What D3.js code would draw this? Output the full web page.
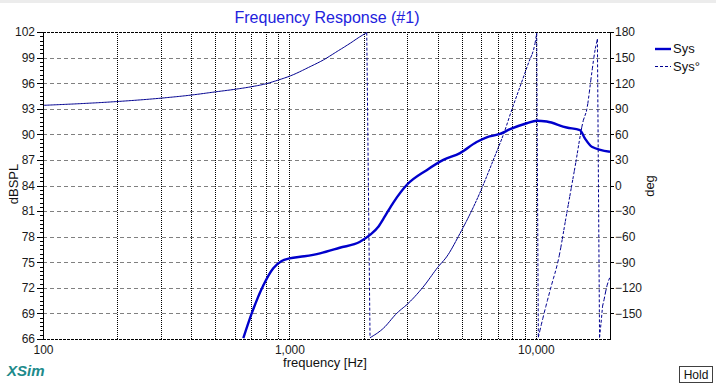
<!doctype html>
<html lang="en">
<head>
<meta charset="UTF-8" />
<script src="https://cdn.jsdelivr.net/npm/d3@7"></script>
<style>
  body { margin: 0; background: #fff; }
  svg { display: block; font-family: "Liberation Sans", Arial, sans-serif; }
  .axis text { font-size: 12px; fill: #1a1a1a; }
  .axis path, .axis line { stroke: #000; shape-rendering: crispEdges; }
</style>
<title>Frequency Response</title>
</head>
<body>
<script>
// values
var splFreq = [650, 703, 784, 860, 930, 1000, 1150, 1331, 1600, 1934, 2123, 2300, 2443, 2641, 2992, 3606, 4214, 4924, 5752, 6320, 7155, 7860, 9188, 10080, 11070, 13340, 15100, 15840, 16870, 20000];
var splDb = [66.1, 69.0, 72.3, 74.3, 75.15, 75.45, 75.7, 76.05, 76.7, 77.4, 78.2, 79.2, 80.4, 82.0, 84.06, 85.8, 87.0, 87.8, 89.1, 89.65, 90.04, 90.6, 91.3, 91.6, 91.5, 90.8, 90.5, 89.5, 88.55, 87.96];

var phaseFreq = [100, 196, 298, 401, 507, 601, 703, 796, 902, 1006, 1212, 1373, 1556, 1762, 1934, 2060,
  2124, 2405, 2726, 3038, 3496, 4019, 4349, 4925, 5755, 6722, 7500, 7980, 8630, 9325, 9926, 10083,
  10235, 10800, 11550, 12340, 13350, 14430, 15600, 16090, 16860, 17390, 17780,
  18140, 18310, 18510, 18970, 19400, 20000];
var phaseDeg = [94.0, 98.3, 102.3, 106.1, 110.0, 112.8, 115.9, 119.0, 123.7, 128.4, 139.3, 147.2, 156.9, 166.7, 174.5, 179.2,
  -178.5, -167.5, -149.9, -138.1, -118.7, -95.2, -83.5, -56.1, -17.0, 29.9, 65.1, 88.5, 115.9, 143.3, 166.7, 178.5,
  -178, -150, -118, -87.4, -32.6, 22.0, 76.8, 88.5, 131.6, 158.9, 171.4,
  -178.2, -169.4, -149.9, -132.3, -118.7, -107.3];

var splTicks = [66, 69, 72, 75, 78, 81, 84, 87, 90, 93, 96, 99, 102];
var phaseTicks = [-150, -120, -90, -60, -30, 0, 30, 60, 90, 120, 150, 180];
var freqTicks = [100, 1000, 10000];
var freqTickLabels = ["100", "1,000", "10,000"];
var gridFreqs = [200, 300, 400, 500, 600, 700, 800, 900, 1000, 2000, 3000, 4000, 5000, 6000, 7000, 8000, 9000, 10000];

var W = 716, H = 385;
var pLeft = 43, pRight = 610, pTop = 32, pBottom = 339;

var svg = d3.select("body").append("svg").attr("width", W).attr("height", H);
svg.append("rect").attr("width", W).attr("height", 3).attr("fill", "#ececec");

var x = d3.scaleLog().domain([100, 20000]).range([pLeft, pRight]);
var y = d3.scaleLinear().domain([66, 102]).range([pBottom, pTop]);
var yR = d3.scaleLinear().domain([-180, 180]).range([pBottom, pTop]);

svg.append("clipPath").attr("id", "plot").append("rect")
  .attr("x", pLeft).attr("y", pTop).attr("width", pRight - pLeft).attr("height", pBottom - pTop);

// grid
svg.append("g").selectAll("line").data(splTicks.slice(1, -1)).enter().append("line")
  .attr("x1", pLeft).attr("x2", pRight)
  .attr("y1", function (d) { return Math.round(y(d)) + 0.5; })
  .attr("y2", function (d) { return Math.round(y(d)) + 0.5; })
  .attr("stroke", "#808080").attr("stroke-dasharray", "4,3");

svg.append("g").selectAll("line").data(gridFreqs).enter().append("line")
  .attr("x1", function (d) { return Math.round(x(d)) + 0.5; })
  .attr("x2", function (d) { return Math.round(x(d)) + 0.5; })
  .attr("y1", pTop).attr("y2", pBottom)
  .attr("stroke", "#000").attr("stroke-dasharray", "1,1");

[pTop, pBottom].forEach(function (yy) {
  svg.append("line").attr("x1", pLeft).attr("x2", pRight)
    .attr("y1", yy + 0.5).attr("y2", yy + 0.5)
    .attr("stroke", "#000").attr("stroke-dasharray", "3,1");
});

var plot = svg.append("g").attr("clip-path", "url(#plot)");

// phase: split at the wraps, dash restarted every small step in x
var phase = phaseFreq.map(function (f, i) { return [f, phaseDeg[i]]; });
var segs = [[phase[0]]];
for (var i = 1; i < phase.length; i++) {
  if (Math.abs(phase[i][1] - phase[i - 1][1]) > 180) segs.push([]);
  segs[segs.length - 1].push(phase[i]);
}

var phaseLine = d3.line()
  .x(function (d) { return x(d[0]); })
  .y(function (d) { return yR(d[1]); })
  .curve(d3.curveMonotoneX);

function samplePath(node, step) {
  var total = node.getTotalLength();
  var p = node.getPointAtLength(0), pts = [[p.x, p.y]], nextX = p.x + step;
  for (var l = 0.25; l < total; l += 0.25) {
    p = node.getPointAtLength(l);
    if (p.x >= nextX) {
      pts.push([p.x, p.y]);
      while (nextX <= p.x) nextX += step;
    }
  }
  p = node.getPointAtLength(total);
  pts.push([p.x, p.y]);
  return pts;
}

var d = "", lastPt = null;
segs.forEach(function (seg) {
  var tmp = svg.append("path").attr("d", phaseLine(seg)).attr("fill", "none");
  var pts = samplePath(tmp.node(), 1.5);
  tmp.remove();
  if (lastPt) d += "M" + lastPt + "L" + pts[0];
  for (var k = 0; k < pts.length - 1; k++) d += "M" + pts[k] + "L" + pts[k + 1];
  lastPt = pts[pts.length - 1];
});
plot.append("path").attr("d", d)
  .attr("fill", "none").attr("stroke", "#000090").attr("stroke-width", 1)
  .attr("stroke-dasharray", "3,2");

// SPL
var spl = splFreq.map(function (f, i) { return [f, splDb[i]]; });
plot.append("path").datum(spl)
  .attr("d", d3.line()
    .x(function (d) { return x(d[0]); })
    .y(function (d) { return y(d[1]); })
    .curve(d3.curveMonotoneX))
  .attr("fill", "none").attr("stroke", "#0000cc").attr("stroke-width", 2.4)
  .attr("stroke-linejoin", "round");

// axes
svg.append("g").attr("class", "axis").attr("transform", "translate(" + pLeft + ",0)")
  .call(d3.axisLeft(y).tickValues(d3.range(66, 102.01, 0.5)).tickSize(3).tickFormat(""))
  .call(function (g) { g.select(".domain").remove(); });

svg.append("g").attr("class", "axis").attr("transform", "translate(" + pLeft + ",0)")
  .call(d3.axisLeft(y).tickValues(splTicks).tickSize(6).tickSizeOuter(0).tickPadding(2))
  .call(function (g) { g.select(".domain").attr("stroke-width", 1.5); });

svg.append("g").attr("class", "axis").attr("transform", "translate(" + pRight + ",0)")
  .call(d3.axisRight(yR).tickValues(phaseTicks).tickSize(4).tickSizeOuter(0).tickPadding(1))
  .call(function (g) { g.select(".domain").attr("stroke-width", 1.5); });

svg.append("g").attr("class", "axis").attr("transform", "translate(0," + pBottom + ")")
  .call(d3.axisBottom(x).tickValues(freqTicks).tickSize(0).tickPadding(6)
    .tickFormat(function (d, i) { return freqTickLabels[i]; }))
  .call(function (g) { g.select(".domain").remove(); });

// titles
svg.append("text").attr("x", 327).attr("y", 23).attr("text-anchor", "middle")
  .attr("font-size", 16).attr("fill", "#2222dd").text("Frequency Response (#1)");
svg.append("text").attr("x", 325).attr("y", 367).attr("text-anchor", "middle")
  .attr("font-size", 13).attr("fill", "#111").text("frequency [Hz]");
svg.append("text").attr("transform", "translate(18,184) rotate(-90)").attr("text-anchor", "middle")
  .attr("font-size", 13).attr("fill", "#111").text("dBSPL");
svg.append("text").attr("transform", "translate(654,186) rotate(-90)").attr("text-anchor", "middle")
  .attr("font-size", 13).attr("fill", "#111").text("deg");

// legend
svg.append("line").attr("x1", 655).attr("x2", 671).attr("y1", 49).attr("y2", 49)
  .attr("stroke", "#0000cc").attr("stroke-width", 2.4);
svg.append("text").attr("x", 673).attr("y", 53).attr("font-size", 13).attr("fill", "#111").text("Sys");
svg.append("line").attr("x1", 655).attr("x2", 671).attr("y1", 66.5).attr("y2", 66.5)
  .attr("stroke", "#000090").attr("stroke-dasharray", "3,2");
svg.append("text").attr("x", 673).attr("y", 71).attr("font-size", 13).attr("fill", "#111").text("Sys\u00b0");

svg.append("text").attr("x", 7).attr("y", 376).attr("font-size", 15).attr("font-weight", "bold")
  .attr("font-style", "italic").attr("fill", "#208a8a").text("XSim");

// Hold button
svg.append("rect").attr("x", 679.5).attr("y", 366.5).attr("width", 33).attr("height", 16)
  .attr("fill", "#fff").attr("stroke", "#404040");
svg.append("text").attr("x", 696).attr("y", 379).attr("text-anchor", "middle")
  .attr("font-size", 12).attr("fill", "#111").text("Hold");
</script>
</body>
</html>
